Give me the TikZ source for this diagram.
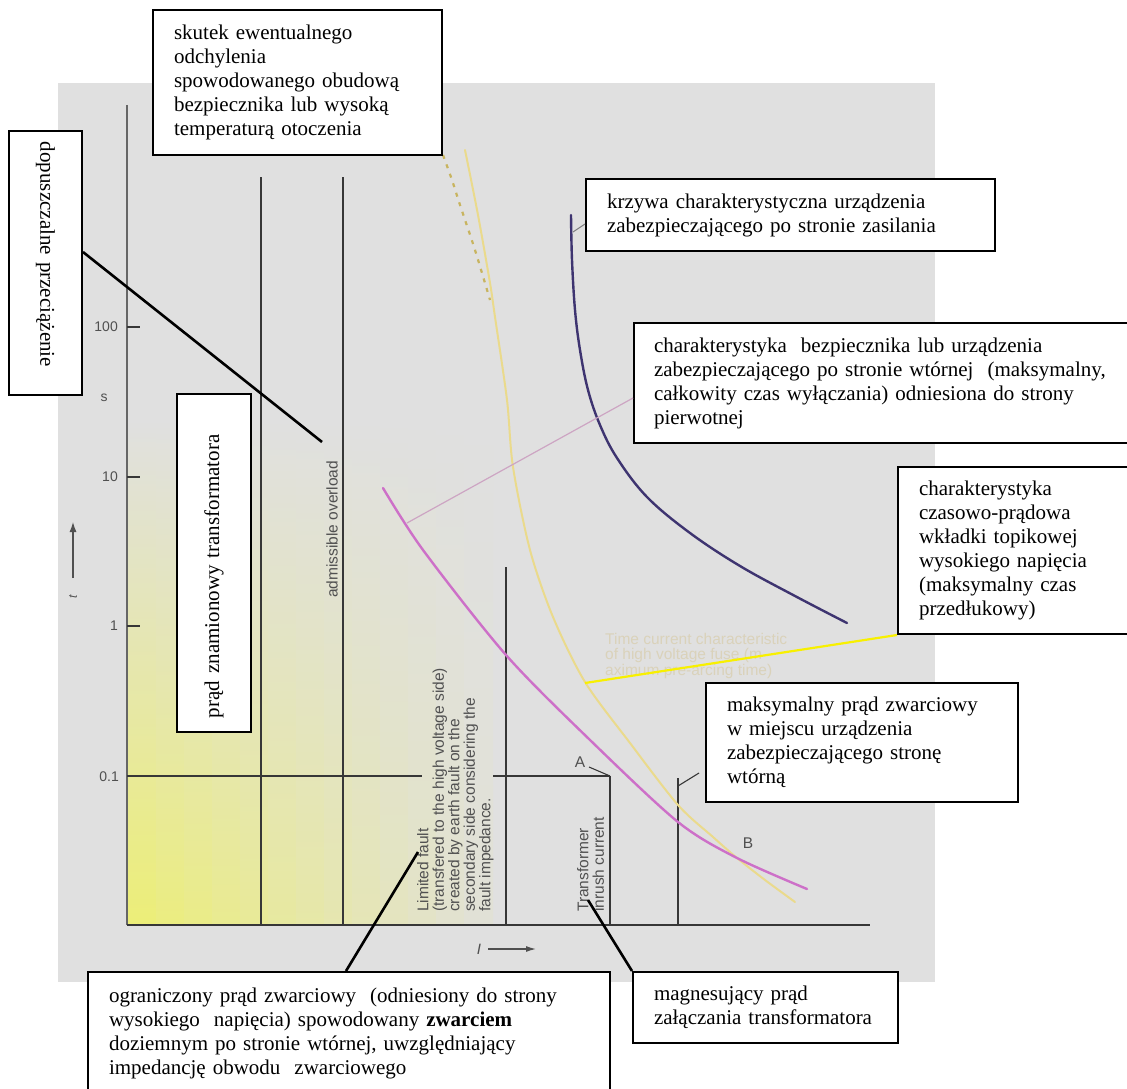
\documentclass[tikz,border=0pt]{standalone}
\usepackage{fontspec}
\setmainfont{Liberation Serif}
\setsansfont{Liberation Sans}
\usetikzlibrary{arrows.meta}
\newcommand{\keepln}[1]{\mbox{#1}}
\definecolor{bg}{RGB}{224,224,224}
\definecolor{yel}{RGB}{236,238,120}
\definecolor{pinkc}{RGB}{205,112,200}
\definecolor{navyc}{RGB}{62,52,112}
\definecolor{fusec}{RGB}{234,218,140}
\definecolor{fused}{RGB}{200,180,95}
\definecolor{leadpink}{RGB}{205,165,195}
\definecolor{leadyel}{RGB}{248,240,0}
\definecolor{chartline}{RGB}{55,55,55}
\definecolor{charttext}{RGB}{80,80,80}
\definecolor{faint}{RGB}{218,210,186}
\begin{document}
\begin{tikzpicture}[x=1pt,y=-1pt,
  box/.style={draw=black, line width=2pt, fill=white, inner sep=0pt, align=left,
    font=\fontsize{21}{24}\selectfont},
  leader/.style={draw=black, line width=2.6pt},
  chartln/.style={draw=chartline, line width=1.5pt},
  axisln/.style={draw=gray!80!black, line width=1.4pt},
  charttxt/.style={text=charttext, font=\sffamily\fontsize{15.5}{15.5}\selectfont, inner sep=0pt},
  ticklbl/.style={text=charttext, font=\sffamily\fontsize{14}{14}\selectfont, inner sep=0pt, anchor=east},
  curve/.style={line width=2.4pt, line cap=round, line join=round}
]
\useasboundingbox (0,0) rectangle (1127,1089);
% background of the scanned chart
\fill[bg] (58,83) rectangle (935,982);
% yellow tint at the lower left
\foreach \i in {0,...,12}{
  \pgfmathtruncatemacro\p{100-\i*7.5}
  \pgfmathtruncatemacro\q{0.4*(100-\i*7.5)}
  \shade[top color=bg, middle color=yel!\q!bg, bottom color=yel!\p!bg]
    ({128+\i*28},420) rectangle ({128+\i*28+29},925);
}
% axes
\coordinate (yTop) at (127,105);
\coordinate (orig) at (127,925);
\coordinate (xEnd) at (870,925);
\draw[axisln] (yTop) -- (orig);
\draw[chartln, line width=2pt] (orig) -- (xEnd);
% ticks
\foreach \yy/\nm in {327/a,477/b,626/c}{
  \coordinate (tk\nm s) at (127,\yy);
  \coordinate (tk\nm e) at (140,\yy);
  \draw[chartln, line width=1.2pt] (tk\nm s) -- (tk\nm e);
}
\node[ticklbl] (t100) at (118,327) {100};
\node[ticklbl] (t10) at (118,477) {10};
\node[ticklbl] (t1) at (118,626) {1};
\node[ticklbl] (t01) at (119,777) {0.1};
\node[ticklbl, anchor=center] (sUnit) at (104,398) {s};
% time axis arrow
\coordinate (tArrS) at (73,578);
\coordinate (tArrE) at (73,522);
\draw[draw=charttext, line width=1.2pt, -{Latex[length=10pt,width=7pt]}] (tArrS) -- (tArrE);
\node[charttxt, rotate=90, font=\sffamily\itshape\fontsize{12}{12}\selectfont] (tLab) at (73,597) {t};
% current axis arrow
\node[charttxt, font=\sffamily\itshape\fontsize{15}{15}\selectfont] (iLab) at (479,949) {I};
\coordinate (iArrS) at (488,949);
\coordinate (iArrE) at (536,949);
\draw[draw=charttext, line width=1.2pt, -{Latex[length=10pt,width=6pt]}] (iArrS) -- (iArrE);
% vertical lines
\coordinate (v1t) at (261,177); \coordinate (v1b) at (261,925);
\coordinate (v2t) at (343,177); \coordinate (v2b) at (343,925);
\coordinate (v3t) at (506,567); \coordinate (v3b) at (506,925);
\coordinate (v4t) at (610,776); \coordinate (v4b) at (610,925);
\coordinate (v5t) at (678,778); \coordinate (v5b) at (678,925);
\draw[chartln] (v1t) -- (v1b);
\draw[chartln] (v2t) -- (v2b);
\draw[chartln] (v3t) -- (v3b);
\draw[chartln] (v4t) -- (v4b);
\draw[chartln] (v5t) -- (v5b);
% 0.1 s line
\coordinate (h1s) at (127,776); \coordinate (h1e) at (422,776);
\coordinate (h2s) at (493,776);
\draw[chartln] (h1s) -- (h1e);
\draw[chartln] (h2s) -- (v4t);
% A and B
\node[charttxt] (aLab) at (580,762) {A};
\coordinate (aTip) at (589,767);
\draw[chartln, line width=1.1pt] (aTip) -- (v4t);
\node[charttxt] (bLab) at (748,843) {B};
\coordinate (hidS) at (678,786);
\coordinate (hidE) at (699,773);
\draw[chartln, line width=1.1pt] (hidS) -- (hidE);
% chart texts
\node[charttxt, rotate=90, anchor=west] (adm) at (332,598) {admissible overload};
\node[charttxt, rotate=90, anchor=north west, align=left] (limTxt) at (417,912)
  {Limited fault\\(transfered to the high voltage side)\\created by earth fault on the\\secondary side considering the\\fault impedance.};
\node[charttxt, rotate=90, anchor=north west, align=left] (trTxt) at (577,912)
  {Transformer\\inrush current};
\node[charttxt, text=faint, anchor=north west, align=left] (faintTxt) at (605,633)
  {Time current characteristic\\of high voltage fuse (m\\aximum pre-arcing time)};
% curves
\draw[curve, draw=navyc] plot[smooth, tension=0.6] coordinates {(571,215) (572,260) (575,310) (580,350) (588,390) (600,425) (617,458) (647,497) (690,533) (740,566) (795,596) (847,623)};
\draw[curve, draw=fusec, line width=2pt] plot[smooth] coordinates {(465,150) (478,215) (490,283) (495,317) (507,400) (513,467) (530,550) (553,617) (585,682) (630,743) (678,805) (713,837) (737,858) (765,880) (795,902)};
\draw[curve, draw=fused, line width=2.2pt, line cap=butt, dash pattern=on 4pt off 6pt] plot[smooth] coordinates {(443,155) (452,180) (460,205) (475,250) (490,300)};
\draw[curve, draw=pinkc] plot[smooth] coordinates {(383,488) (423,550) (506,655) (590,740) (678,822) (737,858) (807,889)};
% boxes
\node[box, minimum width=289pt, minimum height=145pt, text width=247pt] (skutek) at (297.5,82.5)
  {\keepln{skutek ewentualnego}\\\keepln{odchylenia}\\\keepln{spowodowanego obudową}\\\keepln{bezpiecznika lub wysoką}\\\keepln{temperaturą otoczenia}};
\node[box, rotate=-90, minimum width=264pt, minimum height=73pt, text width=242pt] (dop) at (45.5,263)
  {\keepln{dopuszczalne przeciążenie}};
\node[box, rotate=90, minimum width=338pt, minimum height=74pt, text width=310pt] (znam) at (214,563)
  {\keepln{prąd znamionowy transformatora}};
\node[box, minimum width=409pt, minimum height=72pt, text width=367pt] (krzywa) at (790.5,215)
  {\keepln{krzywa charakterystyczna urządzenia}\\\keepln{zabezpieczającego po stronie zasilania}};
\node[box, minimum width=501pt, minimum height=120pt, text width=461pt] (bezp) at (884.5,383)
  {\keepln{charakterystyka\ \ bezpiecznika lub urządzenia}\\\keepln{zabezpieczającego po stronie wtórnej\ \ (maksymalny,}\\\keepln{całkowity czas wyłączania) odniesiona do strony}\\\keepln{pierwotnej}};
\node[box, minimum width=237pt, minimum height=167pt, text width=195pt] (czas) at (1016.5,550.5)
  {\keepln{charakterystyka}\\\keepln{czasowo-prądowa}\\\keepln{wkładki topikowej}\\\keepln{wysokiego napięcia}\\\keepln{(maksymalny czas}\\\keepln{przedłukowy)}};
\node[box, minimum width=312pt, minimum height=119pt, text width=270pt] (maks) at (862,742.5)
  {\keepln{maksymalny prąd zwarciowy}\\\keepln{w miejscu urządzenia}\\\keepln{zabezpieczającego stronę}\\\keepln{wtórną}};
\node[box, minimum width=522pt, minimum height=122pt, text width=480pt] (ogr) at (349,1033)
  {\keepln{ograniczony prąd zwarciowy\ \ (odniesiony do strony}\\\keepln{wysokiego\ \ napięcia) spowodowany \textbf{zwarciem}}\\\keepln{doziemnym po stronie wtórnej, uwzględniający}\\\keepln{impedancję obwodu\ \ zwarciowego}};
\node[box, minimum width=265pt, minimum height=71pt, text width=223pt] (mag) at (765.5,1007.5)
  {\keepln{magnesujący prąd}\\\keepln{załączania transformatora}};
% leaders
\coordinate (dopTip) at (322,442);
\draw[leader] ([yshift=11pt]dop.north) -- (dopTip);
\coordinate (limTip) at (418,852);
\draw[leader] (limTip) -- ([xshift=259pt]ogr.north west);
\coordinate (trTip) at (588,900);
\draw[leader] (trTip) -- (mag.north west);
\coordinate (navyTip) at (573,232);
\draw[draw=gray, line width=1pt] (navyTip) -- ([yshift=-9pt]krzywa.west);
\coordinate (pinkTip) at (407,523);
\draw[draw=leadpink, line width=1.2pt] (pinkTip) -- ([yshift=-15pt]bezp.west);
\coordinate (yelTip) at (585,683);
\draw[draw=leadyel, line width=2.2pt] (yelTip) -- (czas.south west);
\end{tikzpicture}
\end{document}
